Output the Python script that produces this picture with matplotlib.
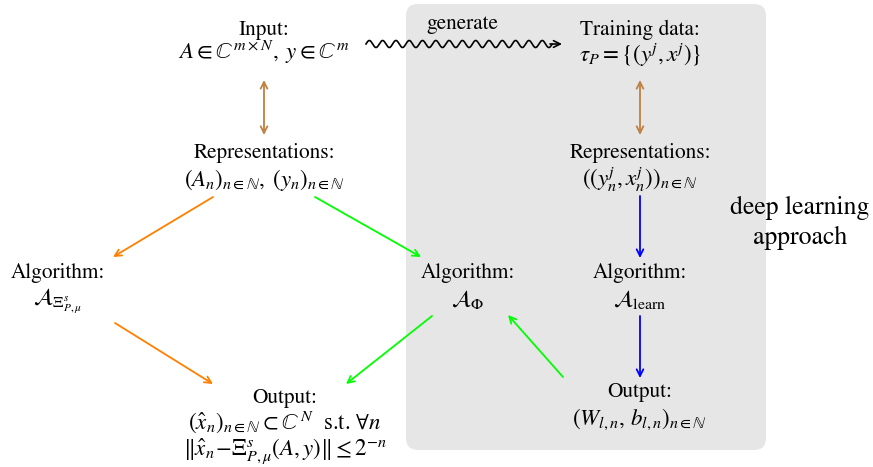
import matplotlib.pyplot as plt
from matplotlib.patches import FancyBboxPatch
import numpy as np

plt.rcParams['mathtext.fontset'] = 'stix'
plt.rcParams['font.family'] = ['STIXGeneral', 'DejaVu Serif']

# node labels (title, formula) and centre positions in pixels
titles = ["Input:", "Training data:", "Representations:", "Representations:",
          "Algorithm:", "Algorithm:", "Algorithm:", "Output:", "Output:"]
formulas = [r"$A\in\mathbb{C}^{m\times N},\;y\in\mathbb{C}^{m}$",
            r"$\tau_P=\{(y^j,x^j)\}$",
            r"$(A_n)_{n\in\mathbb{N}},\;(y_n)_{n\in\mathbb{N}}$",
            r"$((y_n^j,x_n^j))_{n\in\mathbb{N}}$",
            r"$\mathcal{A}_{\Xi^s_{P,\mu}}$",
            r"$\mathcal{A}_\Phi$",
            r"$\mathcal{A}_{\mathrm{learn}}$",
            r"$(\hat{x}_n)_{n\in\mathbb{N}}\subset\mathbb{C}^N$  s.t. $\forall n$",
            r"$(W_{l,n},\,b_{l,n})_{n\in\mathbb{N}}$"]
node_x = [264, 640, 264, 640, 58, 468, 640, 285, 640]
title_y = [30, 30, 153, 153, 273, 273, 273, 398, 392]
formula_base = [59, 62, 186, 186, 304, 306, 306, 429, 425]

# arrows: start, end, colour, double-headed
arrows = [((264, 80), (264, 135), '#bf8040', True),
          ((640, 80), (640, 135), '#bf8040', True),
          ((213, 197), (113, 257), '#ff8000', False),
          ((315, 197), (421, 257), '#00ff00', False),
          ((640, 196), (640, 258), '#0000ff', False),
          ((115, 323), (213, 384), '#ff8000', False),
          ((432, 316), (346, 384), '#00ff00', False),
          ((563, 377), (508, 315), '#00ff00', False),
          ((640, 316), (640, 378), '#0000ff', False)]

fig = plt.figure(figsize=(8.73, 4.67), dpi=100)
ax = fig.add_axes([0, 0, 1, 1])
ax.set_xlim(0, 873)
ax.set_ylim(467, 0)
ax.axis('off')

box = FancyBboxPatch((414, 12), 344, 430, boxstyle="round,pad=8,rounding_size=12",
                     fc='#e6e6e6', ec='none', zorder=0)
ax.add_patch(box)

fs = 15.3
mfs = 16.5
for t, f, x, ty, fb in zip(titles, formulas, node_x, title_y, formula_base):
    ax.text(x, ty, t, ha='center', va='center', fontsize=fs)
    ax.text(x, fb, f, ha='center', va='baseline', fontsize=mfs)

ax.text(285, 455, r"$\Vert\hat{x}_n\!-\!\Xi^s_{P,\mu}(A,y)\Vert\leq 2^{-n}$",
        ha='center', va='baseline', fontsize=mfs)

ax.text(800, 208, "deep learning", ha='center', va='center', fontsize=18.5)
ax.text(800, 238, "approach", ha='center', va='center', fontsize=18.5)
ax.text(462, 24, "generate", ha='center', va='center', fontsize=fs)

for (x0, y0), (x1, y1), c, both in arrows:
    ax.annotate('', xy=(x1, y1), xytext=(x0, y0),
                arrowprops=dict(arrowstyle='<->' if both else '->', color=c, lw=1.3,
                                shrinkA=0, shrinkB=0, mutation_scale=12))

# wavy "generate" arrow
wx = np.linspace(366, 552, 800)
wy = 44 - 3.5 * np.sin((wx - 366) / 13.3 * 2 * np.pi)
ax.plot(wx, wy, color='black', lw=1.2)
ax.annotate('', xy=(562, 44), xytext=(550, 44),
            arrowprops=dict(arrowstyle='->', color='black', lw=1.2,
                            shrinkA=0, shrinkB=0, mutation_scale=12))

fig.savefig('out.png', dpi=100)
